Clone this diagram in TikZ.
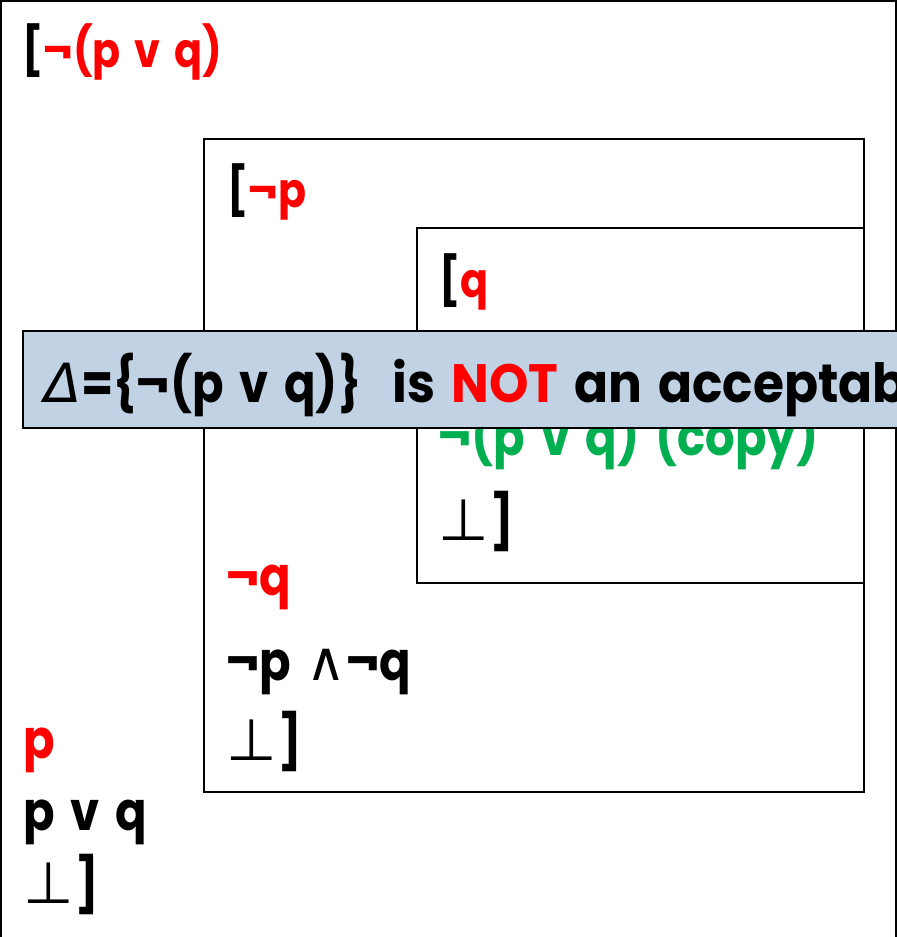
\documentclass[tikz,border=0pt]{standalone}
\usepackage{fontspec}
\setmainfont{Poppins}[FakeStretch=0.86, WordSpace=1.6]
\newfontfamily\avisofont{Poppins}[FakeStretch=0.93, WordSpace=1.5]
\newfontfamily\symfont{DejaVu Sans}
\usetikzlibrary{positioning}

\definecolor{rojo}{RGB}{255,0,0}
\definecolor{verde}{RGB}{0,176,80}
\definecolor{banda}{RGB}{192,210,228}

\newcommand{\falso}{{\symfont\mdseries\fontsize{29}{32}\selectfont ⊥}\kern1pt}
\newcommand{\conj}{{\symfont\mdseries ∧}}

\begin{document}
\begin{tikzpicture}[
    x=0.5pt, y=-0.5pt,
    % Estilos para cajas y textos
    caja/.style={draw, line width=1pt},
    linea/.style={font=\fontsize{27}{32}\selectfont\bfseries, anchor=base west, inner sep=0pt},
    hipotesis/.style={linea, font=\fontsize{24}{30}\selectfont\bfseries},
    aviso/.style={draw, line width=1pt, fill=banda}
    ]

    \useasboundingbox (0,0) rectangle (897,937);
    \clip (0,0) rectangle (897,937);

    % Marco exterior (sin borde inferior)
    \draw[caja] (1,945) -- (1,1) -- (896,1) -- (896,945);

    % Cajas de subderivaciones
    \draw[caja] (204,139) rectangle (864,792);
    \draw[caja] (417,228) rectangle (864,583);

    % Derivacion exterior
    \node[hipotesis] (sup1) at (22,67) {[\textcolor{rojo}{¬(p v q)}};
    \node[linea, text=rojo] (p) at (23,758) {p};
    \node[linea] (disy) at (23,830) {p v q};
    \node[linea] (abs3) at (23,903) {\falso]};

    % Subderivacion de ¬p
    \node[hipotesis] (sup2) at (227,207) {[\textcolor{rojo}{¬p}};
    \node[linea, text=rojo] (nq) at (226,595) {¬q};
    \node[linea] (conj) at (226,680) {¬p \conj¬q};
    \node[linea] (abs2) at (226,760) {\falso]};

    % Subderivacion de q
    \node[hipotesis] (sup3) at (439,297) {[\textcolor{rojo}{q}};
    \node[linea, text=verde] (copia) at (438,455) {¬(p v q) (copy)};
    \node[linea] (abs1) at (438,540) {\falso]};

    % Banda de aviso
    \draw[aviso] (23,331) rectangle (920,428);
    \node[linea] (texto) at (44,402)
        {{\symfont\mdseries\itshape Δ}=\{¬(p v q)\}~~{\avisofont\bfseries is \textcolor{rojo}{NOT} an acceptab}};

\end{tikzpicture}
\end{document}
